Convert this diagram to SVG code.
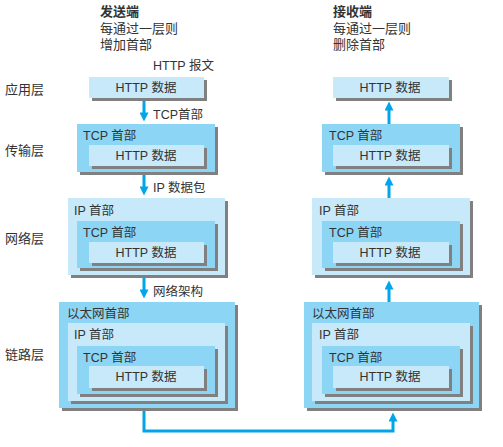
<svg xmlns="http://www.w3.org/2000/svg" width="503" height="447" viewBox="0 0 503 447">
<style>
text{font-family:"Liberation Sans","Noto Sans CJK SC",sans-serif;font-size:12.5px;fill:#333}
.t{font-size:13px}
.b{font-weight:bold}
.sh{fill:#808080}
.l1{fill:#c7e9f9}
.l2{fill:#8dd5f5}
.c{text-anchor:middle}
.ar{stroke:#00a6e9;stroke-width:3;fill:none}
</style>
<defs>
<marker id="ah" viewBox="0 0 10 10" refX="5" refY="5" markerWidth="10" markerHeight="9" markerUnits="userSpaceOnUse" orient="auto">
<path d="M0,0 L10,5 L0,10 z" fill="#00a6e9"/>
</marker>
</defs>
<g id="titles">
<text class="t b" x="100" y="16">发送端</text>
<text class="t" x="100" y="32.5">每通过一层则</text>
<text class="t" x="100" y="49">增加首部</text>
<text class="t b" x="333" y="16">接收端</text>
<text class="t" x="333" y="32.5">每通过一层则</text>
<text class="t" x="333" y="49">删除首部</text>
</g>
<g id="layers">
<text class="t" x="5" y="94">应用层</text>
<text class="t" x="5" y="155">传输层</text>
<text class="t" x="5" y="243">网络层</text>
<text class="t" x="5" y="359">链路层</text>
</g>
<g id="connectors">
<line class="ar" x1="144" y1="99" x2="144" y2="117" marker-end="url(#ah)"/>
<line class="ar" x1="144" y1="174" x2="144" y2="191" marker-end="url(#ah)"/>
<line class="ar" x1="144" y1="277" x2="144" y2="294" marker-end="url(#ah)"/>
<line class="ar" x1="389" y1="124" x2="389" y2="106" marker-end="url(#ah)"/>
<line class="ar" x1="389" y1="198" x2="389" y2="181" marker-end="url(#ah)"/>
<line class="ar" x1="389" y1="302" x2="389" y2="285" marker-end="url(#ah)"/>
<path class="ar" d="M144,411 V431 H393 V417" marker-end="url(#ah)"/>
<text x="153" y="70">HTTP 报文</text>
<text x="153" y="118.5">TCP首部</text>
<text x="153" y="192">IP 数据包</text>
<text x="153" y="296">网络架构</text>
</g>
<g id="send-app">
<rect class="sh" x="92" y="80" width="115" height="21"/>
<rect class="l1" x="89" y="77" width="115" height="21"/>
<text class="c" x="146" y="92">HTTP 数据</text>
</g>
<g id="send-transport">
<rect class="sh" x="80" y="127" width="138" height="48"/>
<rect class="l2" x="77" y="124" width="138" height="48"/>
<text x="83" y="140">TCP 首部</text>
<rect class="sh" x="92" y="148" width="115" height="21"/>
<rect class="l1" x="89" y="145" width="115" height="21"/>
<text class="c" x="146" y="160">HTTP 数据</text>
</g>
<g id="send-network">
<rect class="sh" x="71" y="201" width="157" height="77"/>
<rect class="l1" x="68" y="198" width="157" height="77"/>
<text x="74" y="215">IP 首部</text>
<rect class="sh" x="80" y="224" width="138" height="47"/>
<rect class="l2" x="77" y="221" width="138" height="47"/>
<text x="83" y="237">TCP 首部</text>
<rect class="sh" x="92" y="245" width="115" height="21"/>
<rect class="l1" x="89" y="242" width="115" height="21"/>
<text class="c" x="146" y="257">HTTP 数据</text>
</g>
<g id="send-link">
<rect class="sh" x="62" y="305" width="176" height="106"/>
<rect class="l2" x="59" y="302" width="176" height="106"/>
<text x="67" y="318">以太网首部</text>
<rect class="sh" x="71" y="326" width="157" height="78"/>
<rect class="l1" x="68" y="323" width="157" height="78"/>
<text x="74" y="339">IP 首部</text>
<rect class="sh" x="80" y="349" width="138" height="48"/>
<rect class="l2" x="77" y="346" width="138" height="48"/>
<text x="83" y="362">TCP 首部</text>
<rect class="sh" x="92" y="369" width="115" height="22"/>
<rect class="l1" x="89" y="366" width="115" height="22"/>
<text class="c" x="146" y="381">HTTP 数据</text>
</g>
<g id="recv-app">
<rect class="sh" x="336" y="80" width="116" height="21"/>
<rect class="l1" x="333" y="77" width="116" height="21"/>
<text class="c" x="390" y="92">HTTP 数据</text>
</g>
<g id="recv-transport">
<rect class="sh" x="325" y="127" width="138" height="48"/>
<rect class="l2" x="322" y="124" width="138" height="48"/>
<text x="329" y="140">TCP 首部</text>
<rect class="sh" x="336" y="148" width="116" height="21"/>
<rect class="l1" x="333" y="145" width="116" height="21"/>
<text class="c" x="390" y="160">HTTP 数据</text>
</g>
<g id="recv-network">
<rect class="sh" x="315" y="201" width="158" height="77"/>
<rect class="l1" x="312" y="198" width="158" height="77"/>
<text x="319" y="215">IP 首部</text>
<rect class="sh" x="325" y="224" width="138" height="47"/>
<rect class="l2" x="322" y="221" width="138" height="47"/>
<text x="329" y="237">TCP 首部</text>
<rect class="sh" x="336" y="245" width="116" height="21"/>
<rect class="l1" x="333" y="242" width="116" height="21"/>
<text class="c" x="390" y="257">HTTP 数据</text>
</g>
<g id="recv-link">
<rect class="sh" x="307" y="305" width="175" height="106"/>
<rect class="l2" x="304" y="302" width="175" height="106"/>
<text x="312" y="318">以太网首部</text>
<rect class="sh" x="315" y="326" width="158" height="78"/>
<rect class="l1" x="312" y="323" width="158" height="78"/>
<text x="319" y="339">IP 首部</text>
<rect class="sh" x="325" y="349" width="138" height="48"/>
<rect class="l2" x="322" y="346" width="138" height="48"/>
<text x="329" y="362">TCP 首部</text>
<rect class="sh" x="336" y="369" width="116" height="22"/>
<rect class="l1" x="333" y="366" width="116" height="22"/>
<text class="c" x="390" y="381">HTTP 数据</text>
</g>
</svg>
